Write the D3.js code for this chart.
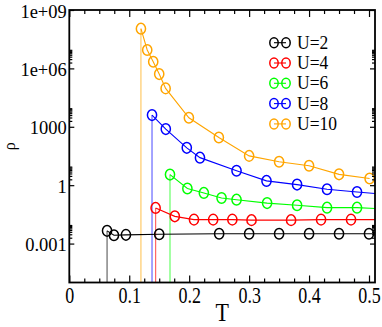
<!DOCTYPE html>
<html>
<head>
<meta charset="utf-8">
<script src="https://cdn.jsdelivr.net/npm/d3@7"></script>
<style>
  body { margin: 0; background: #fff; }
  text { font-family: "Liberation Serif", "DejaVu Serif", serif; fill: #000; }
</style>
</head>
<body>
<svg id="chart" width="382" height="327"></svg>
<script>
// Data
const seriesNames = ["U=2", "U=4", "U=6", "U=8", "U=10"];
const seriesColors = ["#000000", "#ff0000", "#00ff00", "#0000ff", "#ffa500"];

const T2 = [0.063, 0.0745, 0.0945, 0.15, 0.25, 0.3, 0.35, 0.4, 0.45, 0.5, 0.52];
const rho2 = [0.0045, 0.0027, 0.0028, 0.003, 0.0032, 0.0032, 0.0032, 0.0032, 0.0032, 0.0032, 0.0032];

const T4 = [0.144, 0.176, 0.208, 0.24, 0.272, 0.304, 0.37, 0.42, 0.47, 0.52];
const rho4 = [0.068, 0.025, 0.017, 0.017, 0.017, 0.016, 0.016, 0.017, 0.017, 0.017];

const T6 = [0.168, 0.197, 0.2245, 0.254, 0.279, 0.33, 0.38, 0.43, 0.48, 0.52];
const rho6 = [3.5, 0.68, 0.40, 0.22, 0.18, 0.12, 0.093, 0.07, 0.07, 0.062];

const T8 = [0.138, 0.161, 0.196, 0.218, 0.279, 0.329, 0.38, 0.43, 0.48, 0.52];
const rho8 = [3980, 760, 83, 26, 5.5, 1.66, 1.07, 0.62, 0.45, 0.35];

const T10 = [0.1195, 0.13, 0.14, 0.15, 0.1607, 0.1995, 0.2495, 0.3, 0.35, 0.4, 0.45, 0.501];
const rho10 = [1.1e8, 8.8e6, 2.2e6, 5.1e5, 9.4e4, 2900, 283, 32, 16, 10, 3.6, 2.2];

const xTicks = [0, 0.1, 0.2, 0.3, 0.4, 0.5];
const xMinorTicks = d3.range(0, 0.51, 0.025).filter(v => Math.abs(v * 10 - Math.round(v * 10)) > 1e-6);
const yTicks = [1e-3, 1, 1e3, 1e6, 1e9];
const yTickLabels = ["0.001", "1", "1000", "1e+06", "1e+09"];
const yMinorTicks = [];
[1e-3, 1, 1e3, 1e6].forEach(b => d3.range(2, 10).forEach(m => yMinorTicks.push(m * b)));

const allT = [T2, T4, T6, T8, T10];
const allRho = [rho2, rho4, rho6, rho8, rho10];
const series = seriesNames.map((name, i) => ({
  name, color: seriesColors[i],
  points: allT[i].map((t, j) => ({ t, r: allRho[i][j] }))
}));

// Layout
const svg = d3.select("#chart");
const mLeft = 69.3, mRight = 375, mTop = 10, mBottom = 282.5;

const x = d3.scaleLinear().domain([0, 0.51]).range([mLeft, mRight]);
const y = d3.scaleLog().domain([1e-5, 1e9]).range([mBottom, mTop]);

svg.append("clipPath").attr("id", "clip")
  .append("rect").attr("x", mLeft).attr("y", mTop)
  .attr("width", mRight - mLeft).attr("height", mBottom - mTop);

const plot = svg.append("g").attr("clip-path", "url(#clip)");

// Vertical drop lines at the first point of each series
plot.selectAll(".drop").data(series).join("line")
  .attr("class", "drop")
  .attr("x1", d => x(d.points[0].t)).attr("x2", d => x(d.points[0].t))
  .attr("y1", d => y(d.points[0].r)).attr("y2", mBottom)
  .attr("stroke", d => d.color).attr("stroke-opacity", 0.6).attr("stroke-width", 1.2);

const line = d3.line().x(d => x(d.t)).y(d => y(d.r));

series.forEach(s => {
  plot.append("path").datum(s.points)
    .attr("d", line).attr("fill", "none")
    .attr("stroke", s.color).attr("stroke-width", 1.1);
  plot.selectAll(null).data(s.points).join("ellipse")
    .attr("cx", d => x(d.t)).attr("cy", d => y(d.r))
    .attr("rx", 4.6).attr("ry", 5.3)
    .attr("fill", "none").attr("stroke", s.color).attr("stroke-width", 1.5);
});

// Axes (ticks point inward)
const styleAxis = g => {
  g.select(".domain").remove();
  g.selectAll("line").attr("stroke", "#000").attr("stroke-width", 1.2);
};

svg.append("g").attr("transform", `translate(0,${mBottom})`)
  .call(d3.axisBottom(x).tickValues(xMinorTicks).tickSizeInner(-4).tickSizeOuter(0).tickFormat(""))
  .call(styleAxis);
const xAxisG = svg.append("g").attr("transform", `translate(0,${mBottom})`)
  .call(d3.axisBottom(x).tickValues(xTicks).tickSizeInner(-7).tickSizeOuter(0).tickFormat(d3.format("~g")))
  .call(styleAxis);
xAxisG.selectAll("text")
  .attr("y", 16).attr("dy", 0)
  .attr("transform", "scale(1,1.3)")
  .style("font-size", "18px").style("font-family", "Liberation Serif, serif");

svg.append("g").attr("transform", `translate(0,${mTop})`)
  .call(d3.axisTop(x).tickValues(xMinorTicks).tickSizeInner(-4).tickSizeOuter(0).tickFormat(""))
  .call(styleAxis);
svg.append("g").attr("transform", `translate(0,${mTop})`)
  .call(d3.axisTop(x).tickValues(xTicks).tickSizeInner(-7).tickSizeOuter(0).tickFormat(""))
  .call(styleAxis);

svg.append("g").attr("transform", `translate(${mLeft},0)`)
  .call(d3.axisLeft(y).tickValues(yMinorTicks).tickSizeInner(-3).tickSizeOuter(0).tickFormat(""))
  .call(styleAxis);
const yAxisG = svg.append("g").attr("transform", `translate(${mLeft},0)`)
  .call(d3.axisLeft(y).tickValues(yTicks).tickSizeInner(-5).tickSizeOuter(0)
    .tickFormat((d, i) => yTickLabels[i]))
  .call(styleAxis);
yAxisG.selectAll("text")
  .attr("x", -2.5).attr("dy", "0.38em")
  .style("font-size", "18.5px").style("font-family", "Liberation Serif, serif");

svg.append("g").attr("transform", `translate(${mRight},0)`)
  .call(d3.axisRight(y).tickValues(yMinorTicks).tickSizeInner(-3).tickSizeOuter(0).tickFormat(""))
  .call(styleAxis);
svg.append("g").attr("transform", `translate(${mRight},0)`)
  .call(d3.axisRight(y).tickValues(yTicks).tickSizeInner(-5).tickSizeOuter(0).tickFormat(""))
  .call(styleAxis);

// Frame
svg.append("rect")
  .attr("x", mLeft).attr("y", mTop)
  .attr("width", mRight - mLeft).attr("height", mBottom - mTop)
  .attr("fill", "none").attr("stroke", "#000").attr("stroke-width", 1.8);

// Axis titles
svg.append("text")
  .attr("transform", `translate(${(mLeft + mRight) / 2},321) scale(1,1.15)`)
  .attr("text-anchor", "middle")
  .style("font-size", "22px")
  .text("T");

svg.append("text")
  .attr("transform", `translate(14.5,${(mTop + mBottom) / 2}) rotate(-90)`)
  .attr("text-anchor", "middle")
  .style("font-size", "16px")
  .text("ρ");

// Legend
const legend = svg.append("g");
series.forEach((s, i) => {
  const base = 48.7 + i * 20.3;
  const cy = base - 6;
  const g = legend.append("g");
  g.append("line").attr("x1", 274).attr("x2", 286).attr("y1", cy).attr("y2", cy)
    .attr("stroke", s.color).attr("stroke-width", 1.1);
  [274, 286].forEach(cx => g.append("ellipse")
    .attr("cx", cx).attr("cy", cy).attr("rx", 4.2).attr("ry", 5)
    .attr("fill", "none").attr("stroke", s.color).attr("stroke-width", 1.5));
  g.append("text")
    .attr("transform", `translate(297,${base}) scale(1,1.12)`)
    .style("font-size", "17.5px")
    .text(s.name);
});
</script>
</body>
</html>
